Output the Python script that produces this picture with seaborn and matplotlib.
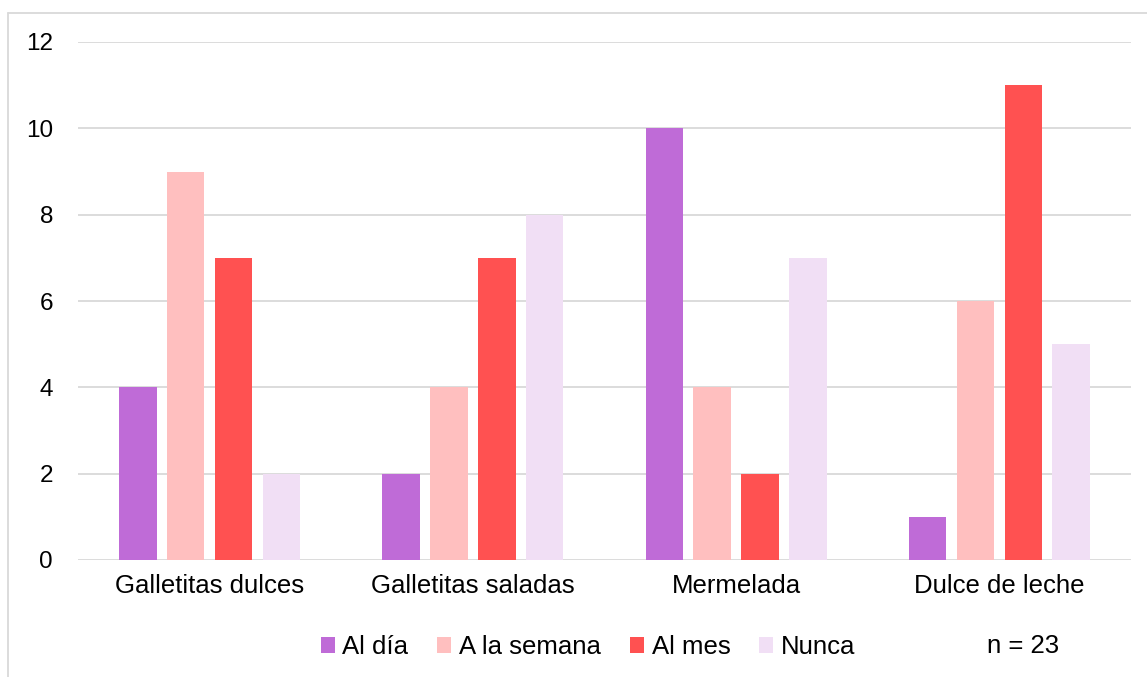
import matplotlib
matplotlib.use("Agg")
import matplotlib.pyplot as plt
from matplotlib.lines import Line2D
from matplotlib.patches import Patch
import seaborn as sns
import pandas as pd

categories = ["Galletitas dulces", "Galletitas saladas", "Mermelada", "Dulce de leche"]
series = ["Al día", "A la semana", "Al mes", "Nunca"]
al_dia = [4, 2, 10, 1]
a_la_semana = [9, 4, 4, 6]
al_mes = [7, 7, 2, 11]
nunca = [2, 8, 7, 5]
y_ticks = [0, 2, 4, 6, 8, 10, 12]
sample_note = "n = 23"

colors = ["#BF6BD7", "#FFBFBF", "#FF5151", "#F1DFF5"]
grid_gray = "#D9D9D9"

rows = []
for name, vals in zip(series, [al_dia, a_la_semana, al_mes, nunca]):
    for cat, v in zip(categories, vals):
        rows.append({"Producto": cat, "Frecuencia": name, "Cantidad": v})
df = pd.DataFrame(rows)

sns.set_theme(style="white")
plt.rcParams["font.family"] = ["Liberation Sans", "DejaVu Sans"]
plt.rcParams["text.color"] = "#000000"

fig = plt.figure(figsize=(11.47, 6.77), dpi=100)
ax = fig.add_axes([78 / 1147, 1 - 560 / 677, (1131 - 78) / 1147, (560 - 42) / 677])

sns.barplot(
    data=df, x="Producto", y="Cantidad", hue="Frecuencia",
    order=categories, hue_order=series, palette=colors,
    width=0.727, gap=0.215, saturation=1, errorbar=None,
    edgecolor="none", legend=False, ax=ax,
)

ax.set_ylim(0, 12)
ax.set_xlim(-0.5, len(categories) - 0.5)
ax.set_yticks(y_ticks)
ax.set_yticklabels([str(t) for t in y_ticks], fontsize=17.5, color="#000000")
ax.tick_params(axis="x", labelsize=18.5, labelcolor="#000000", length=0, pad=10)
ax.tick_params(axis="y", length=0, pad=18)
ax.set_xlabel("")
ax.set_ylabel("")
ax.yaxis.grid(True, color=grid_gray, linewidth=1.3)
ax.xaxis.grid(False)
ax.set_axisbelow(True)
for s in ax.spines.values():
    s.set_visible(False)

# outer chart frame (top and left edges)
fig.add_artist(Line2D([8 / 1147, 1.0], [1 - 13 / 677, 1 - 13 / 677],
                      transform=fig.transFigure, color=grid_gray, linewidth=1.3))
fig.add_artist(Line2D([8 / 1147, 8 / 1147], [0.0, 1 - 13 / 677],
                      transform=fig.transFigure, color=grid_gray, linewidth=1.3))

handles = [Patch(facecolor=c, edgecolor="none") for c in colors]
fig.legend(handles, series, loc="center", bbox_to_anchor=(588 / 1147, 1 - 647 / 677),
           ncol=4, frameon=False, fontsize=18.5, handlelength=0.55, handleheight=0.55,
           handletextpad=0.3, columnspacing=1.12, borderaxespad=0, borderpad=0)

fig.text(1023 / 1147, 1 - 646 / 677, sample_note, ha="center", va="center",
         fontsize=18.5, color="#000000")

fig.savefig("out.png", dpi=100, facecolor="white")
